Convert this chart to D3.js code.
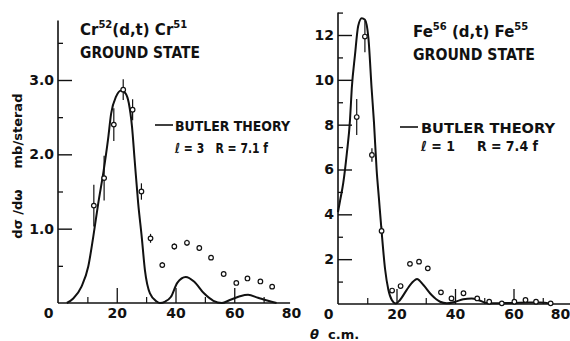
<!DOCTYPE html>
<html><head><meta charset="utf-8">
<script src="https://cdn.jsdelivr.net/npm/d3@7"></script>
<style>
body{margin:0;background:#fff;}
svg text{font-family:"DejaVu Sans",sans-serif;fill:#111;}
</style></head>
<body><svg id="c" width="570" height="341"></svg>
<script>
// ---- data: Cr52(d,t)Cr51 ----
const crTheta = [12.2, 15.7, 19.0, 22.2, 25.4, 28.4, 31.5, 35.5, 39.6, 43.9, 48.1, 52.1, 56.4, 60.7, 64.5, 68.9, 72.9];
const crValue = [1.31, 1.68, 2.40, 2.87, 2.60, 1.50, 0.87, 0.51, 0.76, 0.81, 0.74, 0.61, 0.39, 0.27, 0.33, 0.29, 0.22];
const crErr   = [0.28, 0.30, 0.22, 0.14, 0.14, 0.11, 0.06, 0.04, 0.04, 0.04, 0.04, 0.03, 0, 0, 0, 0, 0];
const crCurveTheta = [3, 5.2, 8, 10.3, 12, 13.7, 15.5, 17, 18.1, 19.8, 21.5, 23, 24.1, 25.2, 26.1, 27.3, 28.5, 29.6, 31.3, 33.6, 34.7, 36.5, 38.4, 40.6, 43.5, 46.3, 49.7, 52.9, 55.8, 58.5, 61.9, 64.7, 68.1, 71.5, 74.4];
const crCurveValue = [0, 0.06, 0.22, 0.49, 0.89, 1.34, 1.77, 2.19, 2.55, 2.78, 2.86, 2.82, 2.69, 2.37, 1.92, 1.34, 0.89, 0.44, 0.13, 0.02, 0, 0.02, 0.08, 0.27, 0.35, 0.29, 0.13, 0.03, 0, 0.04, 0.09, 0.11, 0.07, 0.03, 0];
const crMajorY = [1, 2, 3];
const crMajorYLabels = ["1.0", "2.0", "3.0"];
const crMinorY = [0.5, 1.5, 2.5, 3.5];

// ---- data: Fe56(d,t)Fe55 ----
const feTheta = [6.4, 9.2, 11.6, 14.9, 18.5, 21.4, 24.6, 27.7, 30.7, 35.2, 38.8, 42.9, 47.6, 51.7, 56.0, 60.3, 64.1, 67.7, 72.7];
const feValue = [8.34, 11.93, 6.65, 3.26, 0.60, 0.80, 1.79, 1.89, 1.59, 0.52, 0.25, 0.48, 0.25, 0.10, 0.03, 0.10, 0.18, 0.10, 0.03];
const feErr   = [0.8, 0.7, 0.3, 0.2, 0, 0, 0, 0, 0, 0, 0, 0, 0, 0, 0, 0, 0, 0, 0];
const feCurveTheta = [0, 0.7, 1.8, 3, 4.1, 4.7, 5.8, 6.9, 8.1, 9.2, 10.4, 11.5, 12.3, 13.2, 14.0, 14.9, 16.1, 17.2, 18.4, 19.8, 21.2, 23.5, 25.7, 27, 29.2, 32, 34.9, 37.2, 40, 42.8, 45.7, 48, 50.3, 53, 56, 60, 65, 69, 73];
const feCurveValue = [4.1, 4.6, 5.4, 6.7, 8.2, 9.6, 11.1, 12.4, 12.75, 12.68, 11.86, 9.6, 8.1, 6.0, 4.7, 3.25, 1.55, 0.65, 0.18, 0.02, 0.18, 0.63, 1.0, 1.12, 0.85, 0.4, 0.1, 0.03, 0.1, 0.21, 0.25, 0.18, 0.06, 0.03, 0.04, 0.05, 0.07, 0.07, 0.02];
const feMajorY = [2, 4, 6, 8, 10, 12];
const feMajorYLabels = ["2", "4", "6", "8", "10", "12"];
const feMinorY = [1, 3, 5, 7, 9, 11, 13];

const xMajor = [0, 20, 40, 60, 80];
const xMajorLabels = ["0", "20", "40", "60", "80"];
const xMinor = [10, 30, 50, 70];

const svg = d3.select("#c");
const ink = "#111";

function panel(o) {
  const x = d3.scaleLinear().domain([0, 80]).range(o.xr);
  const y = d3.scaleLinear().domain([0, o.yMax]).range(o.yr);
  const g = svg.append("g");
  g.append("line").attr("x1", x(0)).attr("x2", x(o.xEnd)).attr("y1", y(0)).attr("y2", y(0))
    .attr("stroke", ink).attr("stroke-width", 1.6);
  g.append("line").attr("x1", x(0)).attr("x2", x(0)).attr("y1", y(0)).attr("y2", y(o.yTop))
    .attr("stroke", ink).attr("stroke-width", 1.6);
  const ya = d3.axisLeft(y).tickValues(o.majorY).tickFormat((d, i) => o.majorYLabels[i])
    .tickSizeInner(-14).tickSizeOuter(0).tickPadding(4);
  const yg = g.append("g").attr("transform", `translate(${x(0)},0)`).call(ya);
  yg.select(".domain").remove();
  yg.selectAll("line").attr("stroke", ink).attr("stroke-width", 1.4);
  yg.selectAll("text").attr("font-size", 14).attr("font-weight", "bold").attr("fill", ink).attr("font-family", "DejaVu Sans");
  const ym = d3.axisLeft(y).tickValues(o.minorY).tickFormat("").tickSizeInner(-5).tickSizeOuter(0);
  const ymg = g.append("g").attr("transform", `translate(${x(0)},0)`).call(ym);
  ymg.select(".domain").remove();
  ymg.selectAll("line").attr("stroke", ink).attr("stroke-width", 1.3);
  const xa = d3.axisBottom(x).tickValues(xMajor).tickFormat((d, i) => xMajorLabels[i])
    .tickSizeInner(-15).tickSizeOuter(0).tickPadding(5);
  const xg = g.append("g").attr("transform", `translate(0,${y(0)})`).call(xa);
  xg.select(".domain").remove();
  xg.selectAll("line").attr("stroke", ink).attr("stroke-width", 1.3)
    .attr("opacity", d => (d === 0 || d === 80) ? 0 : 1);
  xg.selectAll("text").attr("font-size", 14).attr("font-weight", "bold").attr("fill", ink).attr("font-family", "DejaVu Sans")
    .attr("dx", d => d === 0 ? -10 : (d === 80 ? o.dx80 : 0));
  const xm = d3.axisBottom(x).tickValues(xMinor).tickFormat("").tickSizeInner(-6).tickSizeOuter(0);
  const xmg = g.append("g").attr("transform", `translate(0,${y(0)})`).call(xm);
  xmg.select(".domain").remove();
  xmg.selectAll("line").attr("stroke", ink).attr("stroke-width", 1.2);
  const line = d3.line().x(d => x(d[0])).y(d => y(d[1])).curve(d3.curveMonotoneX);
  g.append("path").datum(d3.zip(o.cTheta, o.cValue)).attr("d", line)
    .attr("fill", "none").attr("stroke", ink).attr("stroke-width", 2);
  const pts = d3.zip(o.pTheta, o.pValue, o.pErr);
  g.selectAll(".eb").data(pts.filter(d => d[2] > 0)).enter().append("line")
    .attr("x1", d => x(d[0])).attr("x2", d => x(d[0]))
    .attr("y1", d => y(d[1] - d[2])).attr("y2", d => y(d[1] + d[2]))
    .attr("stroke", ink).attr("stroke-width", 1.2);
  g.selectAll(".pt").data(pts).enter().append("circle")
    .attr("cx", d => x(d[0])).attr("cy", d => y(d[1])).attr("r", 2.3)
    .attr("fill", "#fff").attr("stroke", ink).attr("stroke-width", 1.2);
  return {x, y, g};
}

panel({xr: [58, 293], yr: [303, 80], yMax: 3, xEnd: 79, yTop: 3.8, dx80: -2,
  majorY: crMajorY, majorYLabels: crMajorYLabels, minorY: crMinorY,
  cTheta: crCurveTheta, cValue: crCurveValue, pTheta: crTheta, pValue: crValue, pErr: crErr});
panel({xr: [338, 572], yr: [304, 35], yMax: 12, xEnd: 80, yTop: 13, dx80: -12,
  majorY: feMajorY, majorYLabels: feMajorYLabels, minorY: feMinorY,
  cTheta: feCurveTheta, cValue: feCurveValue, pTheta: feTheta, pValue: feValue, pErr: feErr});

function title(xp, y1, y2, w2, a, sa, b, sb) {
  const t = svg.append("text").attr("x", xp).attr("y", y1).attr("font-size", 15).attr("font-weight", "bold");
  t.append("tspan").text(a);
  t.append("tspan").attr("font-size", 10).attr("dy", -7).text(sa);
  t.append("tspan").attr("dy", 7).text(b);
  t.append("tspan").attr("font-size", 10).attr("dy", -7).text(sb);
  svg.append("text").attr("x", xp).attr("y", y2).attr("font-size", 15).attr("font-weight", "bold")
    .attr("textLength", w2).attr("lengthAdjust", "spacingAndGlyphs").text("GROUND STATE");
}
title(80, 35, 58, 120, "Cr", "52", "(d,t) Cr", "51");
title(413, 37, 60, 122, "Fe", "56", " (d,t) Fe", "55");

function legend(lx1, lx2, ly, tx, ty1, ty2, w1, txt2, w2) {
  svg.append("line").attr("x1", lx1).attr("x2", lx2).attr("y1", ly).attr("y2", ly).attr("stroke", ink).attr("stroke-width", 1.6);
  svg.append("text").attr("x", tx).attr("y", ty1).attr("font-size", 14).attr("font-weight", "bold")
    .attr("textLength", w1).attr("lengthAdjust", "spacingAndGlyphs").text("BUTLER  THEORY");
  svg.append("text").attr("x", tx).attr("y", ty2).attr("font-size", 14).attr("font-weight", "bold")
    .attr("textLength", w2).attr("lengthAdjust", "spacingAndGlyphs")
    .style("white-space", "pre").text(txt2);
}
legend(155, 173, 125, 175, 131, 153, 115, "\u2113 = 3   R = 7.1 f", 93);
legend(400, 418, 127, 421, 133, 151, 134, "\u2113 = 1     R = 7.4 f", 117);

svg.append("text").attr("transform", "translate(22,214) rotate(-90)").attr("text-anchor", "middle")
  .attr("font-size", 13).attr("font-weight", "bold").text("d\u03c3 /d\u03c9");
svg.append("text").attr("transform", "translate(22,131) rotate(-90)").attr("text-anchor", "middle")
  .attr("font-size", 13).attr("font-weight", "bold").text("mb/sterad");
const xt = svg.append("text").attr("x", 310).attr("y", 339).attr("font-size", 13).attr("font-weight", "bold")
  .style("white-space", "pre");
xt.append("tspan").attr("font-style", "italic").text("\u03b8");
xt.append("tspan").text("  c.m.");
</script></body></html>
